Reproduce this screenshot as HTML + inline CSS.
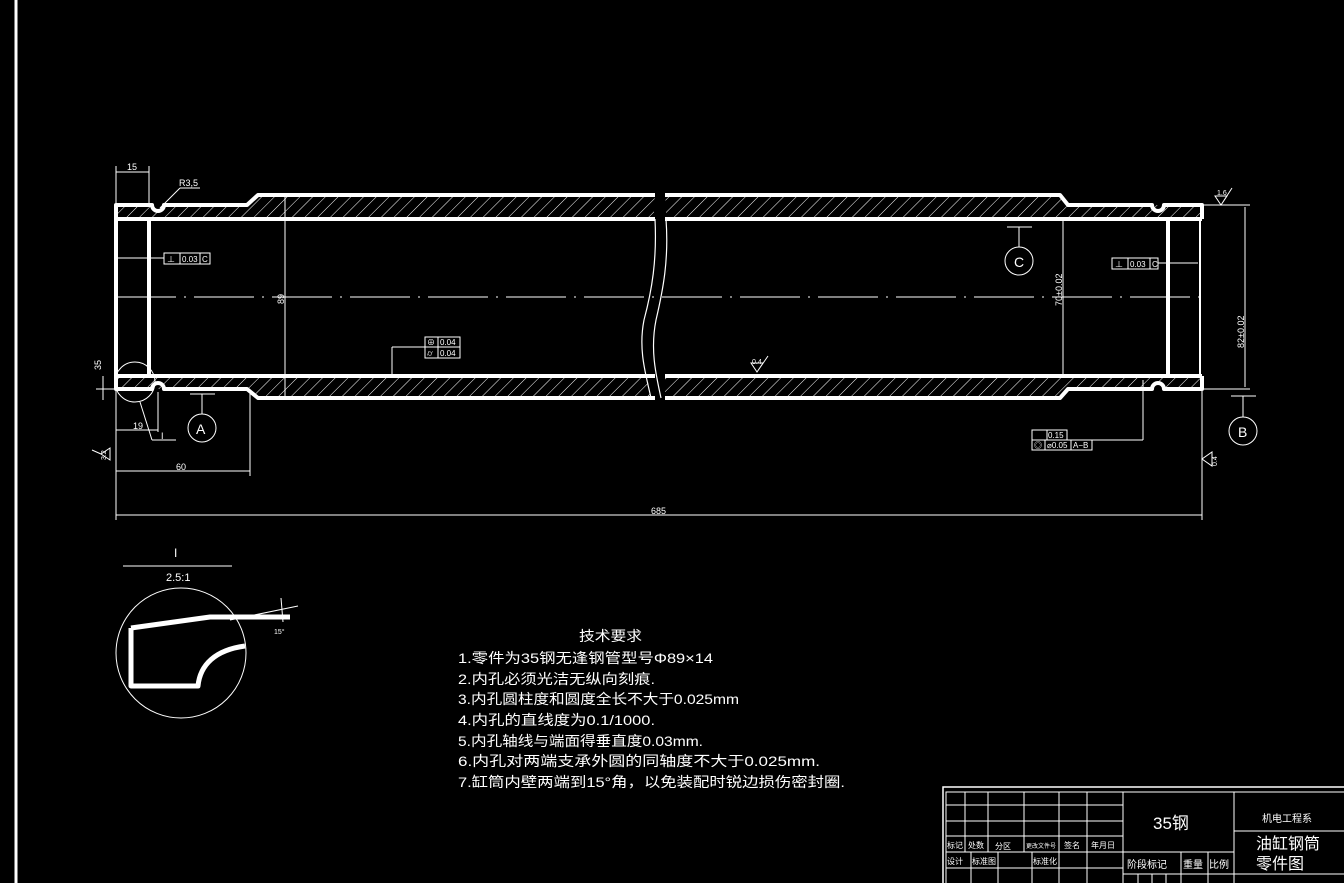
<!DOCTYPE html>
<html><head><meta charset="utf-8"><style>html,body{margin:0;padding:0;background:#000;}svg{display:block}</style></head>
<body>
<svg width="1344" height="883" viewBox="0 0 1344 883" xmlns="http://www.w3.org/2000/svg" font-family="Liberation Sans, Noto Sans CJK SC, sans-serif" fill="none" stroke="#fff">
<defs>
<pattern id="h" width="9" height="9" patternUnits="userSpaceOnUse" patternTransform="rotate(45)">
<line x1="0" y1="0" x2="0" y2="9" stroke="#fff" stroke-width="1"/>
</pattern>
</defs>
<rect width="1344" height="883" fill="#000" stroke="none"/>
<line x1="16" y1="0" x2="16" y2="883" stroke-width="3"/>

<!-- hatch walls -->
<g stroke="none" fill="url(#h)">
<polygon points="116,205 247,205 258,195 655,195 655,219 116,219"/>
<polygon points="665,195 1060,195 1068,205 1202,205 1202,219 665,219"/>
<polygon points="116,376 655,376 655,398 258,398 247,389 116,389"/>
<polygon points="665,376 1202,376 1202,389 1068,389 1060,398 665,398"/>
</g>
<!-- break cover -->
<path d="M655,190 L665,190 C668,260 672,280 662,320 C656,350 660,380 664,402 L652,402 C648,380 640,350 642,320 C650,280 652,260 655,190Z" fill="#000" stroke="none"/>
<path d="M655,219 C657,260 652,290 644,320 C638,350 646,375 651,398" stroke-width="1.2"/>
<path d="M666,219 C669,260 663,290 656,320 C650,350 656,375 661,398" stroke-width="1.2"/>

<!-- thick outlines -->
<g stroke-width="4" stroke-linejoin="round">
<path d="M116,219 L116,205 L152,205 A6,6 0 0 0 164,205 L247,205 L258,195 L655,195"/>
<path d="M665,195 L1060,195 L1068,205 L1152,205 A6,6 0 0 0 1164,205 L1202,205 L1202,219"/>
<path d="M116,376 L116,389 L152,389 A6,6 0 0 1 164,389 L247,389 L258,398 L655,398"/>
<path d="M665,398 L1060,398 L1068,389 L1152,389 A6,6 0 0 1 1164,389 L1202,389 L1202,376"/>
<line x1="116" y1="219" x2="655" y2="219"/><line x1="665" y1="219" x2="1202" y2="219"/>
<line x1="116" y1="376" x2="655" y2="376"/><line x1="665" y1="376" x2="1202" y2="376"/>
<line x1="116" y1="219" x2="116" y2="376"/>
<line x1="149" y1="219" x2="149" y2="376"/>
<line x1="1168" y1="219" x2="1168" y2="376"/>
</g>
<line x1="1200" y1="219" x2="1200" y2="376" stroke-width="2"/>

<!-- centerline -->
<line x1="116" y1="297" x2="1202" y2="297" stroke-width="1" stroke-dasharray="60,8,2,8"/>

<g stroke-width="1">
<!-- dim 15 -->
<line x1="116" y1="203" x2="116" y2="166"/><line x1="149" y1="203" x2="149" y2="166"/>
<line x1="116" y1="172" x2="149" y2="172"/>
<line x1="160" y1="208" x2="180" y2="188"/><line x1="180" y1="188" x2="200" y2="188"/>
<!-- 89 -->
<line x1="285" y1="197" x2="285" y2="396"/>
<!-- 70 -->
<line x1="1063" y1="221" x2="1063" y2="374"/>
<!-- 82 -->
<line x1="1204" y1="205" x2="1250" y2="205"/><line x1="1204" y1="389" x2="1250" y2="389"/>
<line x1="1245" y1="207" x2="1245" y2="387"/>
<!-- 685 -->
<line x1="116" y1="391" x2="116" y2="520"/><line x1="1202" y1="391" x2="1202" y2="520"/>
<line x1="116" y1="515" x2="1202" y2="515"/>
<!-- 60 -->
<line x1="250" y1="392" x2="250" y2="476"/><line x1="116" y1="471" x2="250" y2="471"/>
<!-- 19 -->
<line x1="158" y1="392" x2="158" y2="432"/><line x1="116" y1="430" x2="158" y2="430"/>
<!-- 35 -->
<line x1="103" y1="376" x2="103" y2="400"/><line x1="96" y1="389" x2="116" y2="389"/>
<!-- detail circle -->
<circle cx="135" cy="382" r="20"/>
<line x1="140" y1="402" x2="152" y2="440"/><line x1="152" y1="440" x2="176" y2="440"/>
<!-- A -->
<line x1="190" y1="394" x2="215" y2="394"/><line x1="202" y1="394" x2="202" y2="414"/>
<circle cx="202" cy="428" r="14"/>
<!-- C -->
<line x1="1007" y1="227" x2="1032" y2="227"/><line x1="1019" y1="227" x2="1019" y2="247"/>
<circle cx="1019" cy="261" r="14"/>
<!-- B -->
<line x1="1231" y1="396" x2="1256" y2="396"/><line x1="1243" y1="396" x2="1243" y2="417"/>
<circle cx="1243" cy="431" r="14"/>
<!-- tol boxes -->
<rect x="164" y="253" width="46" height="11"/><line x1="180" y1="253" x2="180" y2="264"/><line x1="200" y1="253" x2="200" y2="264"/>
<line x1="117" y1="258" x2="164" y2="258"/>
<rect x="1112" y="258" width="46" height="11"/><line x1="1128" y1="258" x2="1128" y2="269"/><line x1="1150" y1="258" x2="1150" y2="269"/>
<line x1="1158" y1="263" x2="1198" y2="263"/>
<rect x="425" y="337" width="35" height="21"/><line x1="425" y1="347" x2="460" y2="347"/><line x1="438" y1="337" x2="438" y2="358"/>
<line x1="425" y1="347" x2="392" y2="347"/><line x1="392" y1="347" x2="392" y2="374"/>
<rect x="1032" y="430" width="35" height="10"/><line x1="1047" y1="430" x2="1047" y2="440"/>
<rect x="1032" y="440" width="60" height="10"/><line x1="1045" y1="440" x2="1045" y2="450"/><line x1="1071" y1="440" x2="1071" y2="450"/>
<line x1="1092" y1="440" x2="1143" y2="440"/><line x1="1143" y1="440" x2="1143" y2="380"/>
<!-- roughness -->
<path d="M751,363 L763,363 L757,372Z M757,372 L768,356"/>
<path d="M1215,196 L1227,196 L1221,205Z M1221,205 L1232,188"/>
<path d="M110,448 L110,460 L101,454Z M101,454 L92,450"/>
<path d="M1212,452 L1212,466 L1202,459Z"/>
<!-- detail view -->
<line x1="123" y1="566" x2="232" y2="566"/>
<circle cx="181" cy="653" r="65"/>
<line x1="230" y1="620" x2="298" y2="606"/>
<line x1="281" y1="598" x2="283" y2="622"/>
</g>
<path d="M131,628 L131,686 L198,686 C200,665 215,650 245,646 M131,628 L210,617 L290,617" stroke-width="5" stroke-linejoin="round"/>

<g fill="#fff" stroke="none" font-size="9">
<text x="127" y="170">15</text>
<text x="179" y="186">R3,5</text>
<text x="133" y="429">19</text>
<text x="161" y="439">I</text>
<text x="176" y="470">60</text>
<text x="651" y="514">685</text>
<text x="182" y="262" font-size="8">0.03</text><text x="202" y="262" font-size="8">C</text><text x="167" y="262" font-size="8">⊥</text>
<text x="1130" y="267" font-size="8">0.03</text><text x="1152" y="267" font-size="8">C</text><text x="1115" y="267" font-size="8">⊥</text>
<text x="440" y="345" font-size="8">0.04</text><text x="440" y="356" font-size="8">0.04</text>
<text x="427" y="345" font-size="8">⊕</text><text x="427" y="356" font-size="8">⌭</text>
<text x="1048" y="438" font-size="8">0.15</text>
<text x="1047" y="448" font-size="8">⌀0.05</text><text x="1073" y="448" font-size="8">A−B</text>
<text x="1034" y="448" font-size="8">◎</text>
<text x="752" y="364" font-size="7">0.4</text>
<text x="1217" y="195" font-size="7">1.6</text>
<text transform="translate(284,304) rotate(-90)">89</text>
<text transform="translate(1062,306) rotate(-90)">70±0.02</text>
<text transform="translate(1244,348) rotate(-90)">82±0.02</text>
<text transform="translate(101,370) rotate(-90)">35</text>
<text transform="translate(106,460) rotate(-90)" font-size="7">3.2</text>
<text transform="translate(1217,466) rotate(-90)" font-size="7">0.4</text>
<text x="196" y="434" font-size="14">A</text>
<text x="1014" y="267" font-size="14">C</text>
<text x="1238" y="437" font-size="14">B</text>
<text x="174" y="557" font-size="12">I</text>
<text x="166" y="581" font-size="11">2.5:1</text>
<text x="274" y="634" font-size="7">15°</text>
</g>

<g fill="#fff" stroke="none" font-family="Liberation Sans, Noto Sans CJK SC, sans-serif" font-size="14">
<text x="579" y="641" textLength="63" lengthAdjust="spacingAndGlyphs">技术要求</text>
<text x="458" y="663" textLength="255" lengthAdjust="spacingAndGlyphs">1.零件为35钢无逢钢管型号Φ89×14</text>
<text x="458" y="684" textLength="197" lengthAdjust="spacingAndGlyphs">2.内孔必须光洁无纵向刻痕.</text>
<text x="458" y="704" textLength="281" lengthAdjust="spacingAndGlyphs">3.内孔圆柱度和圆度全长不大于0.025mm</text>
<text x="458" y="725" textLength="197" lengthAdjust="spacingAndGlyphs">4.内孔的直线度为0.1/1000.</text>
<text x="458" y="746" textLength="245" lengthAdjust="spacingAndGlyphs">5.内孔轴线与端面得垂直度0.03mm.</text>
<text x="458" y="766" textLength="362" lengthAdjust="spacingAndGlyphs">6.内孔对两端支承外圆的同轴度不大于0.025mm.</text>
<text x="458" y="787" textLength="387" lengthAdjust="spacingAndGlyphs">7.缸筒内壁两端到15°角，以免装配时锐边损伤密封圈.</text>
</g>

<!-- title block -->
<g stroke-width="1.5">
<path d="M943,883 L943,787 L1344,787"/>
</g>
<g stroke-width="1">
<path d="M946,883 L946,792 L1344,792"/>
<line x1="946" y1="805" x2="1123" y2="805"/><line x1="946" y1="821" x2="1123" y2="821"/>
<line x1="946" y1="836" x2="1123" y2="836"/><line x1="946" y1="852" x2="1123" y2="852"/>
<line x1="946" y1="868" x2="1123" y2="868"/>
<line x1="965" y1="792" x2="965" y2="852"/><line x1="988" y1="792" x2="988" y2="852"/>
<line x1="1024" y1="792" x2="1024" y2="852"/><line x1="1059" y1="792" x2="1059" y2="883"/>
<line x1="1087" y1="792" x2="1087" y2="883"/><line x1="1123" y1="792" x2="1123" y2="883"/>
<line x1="971" y1="852" x2="971" y2="883"/><line x1="998" y1="852" x2="998" y2="883"/>
<line x1="1032" y1="852" x2="1032" y2="883"/>
<line x1="1123" y1="852" x2="1234" y2="852"/><line x1="1123" y1="874" x2="1344" y2="874"/>
<line x1="1181" y1="852" x2="1181" y2="883"/><line x1="1208" y1="852" x2="1208" y2="883"/>
<line x1="1234" y1="792" x2="1234" y2="883"/>
<line x1="1234" y1="831" x2="1344" y2="831"/>
<line x1="1138" y1="874" x2="1138" y2="883"/><line x1="1152" y1="874" x2="1152" y2="883"/><line x1="1166" y1="874" x2="1166" y2="883"/>
</g>
<g fill="#fff" stroke="none" font-size="8">
<text x="947" y="848">标记</text><text x="968" y="848">处数</text><text x="995" y="849">分区</text>
<text x="1026" y="848" font-size="6">更改文件号</text><text x="1064" y="848">签名</text><text x="1091" y="848">年月日</text>
<text x="947" y="864">设计</text><text x="972" y="864">标准图</text><text x="1033" y="864">标准化</text>
<text x="1127" y="868" font-size="10">阶段标记</text><text x="1183" y="868" font-size="10">重量</text><text x="1209" y="868" font-size="10">比例</text>
<text x="1153" y="829" font-size="17">35钢</text>
<text x="1262" y="822" font-size="10">机电工程系</text>
<text x="1256" y="849" font-size="16">油缸钢筒</text>
<text x="1256" y="869" font-size="16">零件图</text>
</g>
</svg>
</body></html>
